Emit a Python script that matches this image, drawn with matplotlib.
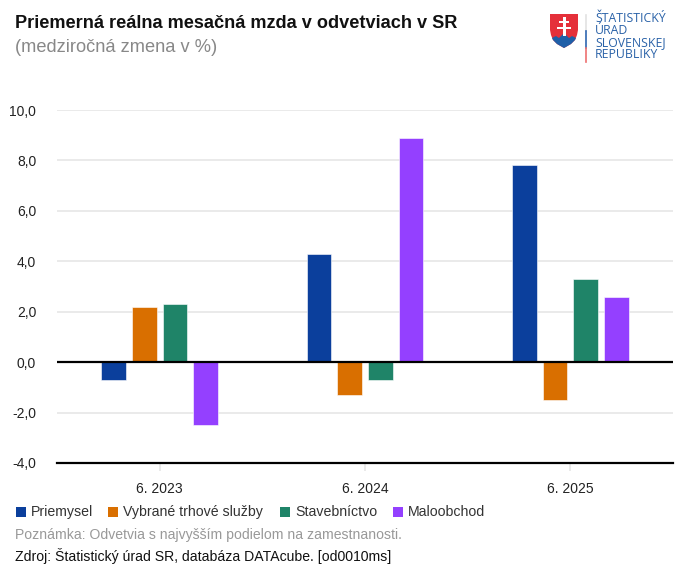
import matplotlib
matplotlib.use("Agg")
import matplotlib.pyplot as plt
from matplotlib.patches import Polygon, Rectangle
import numpy as np

plt.rcParams['font.family'] = ['Liberation Sans', 'DejaVu Sans']

W, H = 686, 573

categories = ["6. 2023", "6. 2024", "6. 2025"]
priemysel = [-0.7, 4.3, 7.8]
sluzby = [2.2, -1.3, -1.5]
stavebnictvo = [2.3, -0.7, 3.3]
maloobchod = [-2.5, 8.9, 2.6]
y_ticks = [-4, -2, 0, 2, 4, 6, 8, 10]

series_names = ["Priemysel", "Vybrané trhové služby", "Stavebníctvo", "Maloobchod"]
series_values = [priemysel, sluzby, stavebnictvo, maloobchod]
colors = ["#0b3f9c", "#d96f00", "#1f8468", "#9440ff"]

fig = plt.figure(figsize=(W / 100, H / 100), dpi=100, facecolor="white")

# pixel positions of the plot area
left, right, top, bottom = 57, 673, 110, 463
ax = fig.add_axes([left / W, 1 - bottom / H, (right - left) / W, (bottom - top) / H])

x = np.arange(len(categories))
pitch = 0.149
for i, (vals, c) in enumerate(zip(series_values, colors)):
    ax.bar(x + (i - 1.5) * pitch, vals, width=0.12, color=c, edgecolor="white", linewidth=0.4, zorder=3)

ax.set_xlim(-0.5, 2.5)
ax.set_ylim(-4, 10)
ax.set_yticks(y_ticks)
ax.set_yticklabels([f"{v:.1f}".replace(".", ",") for v in y_ticks], fontsize=10, color="#222222")
ax.set_xticks(x)
ax.set_xticklabels(categories, fontsize=10, color="#222222")
ax.tick_params(axis="y", length=0, pad=15)
ax.tick_params(axis="x", length=6, width=1.2, color="#e6e6e6", pad=8)
ax.grid(axis="y", color="#e6e6e6", linewidth=1.2, zorder=0)
for s in ["top", "right", "left"]:
    ax.spines[s].set_visible(False)
ax.spines["bottom"].set_color("black")
ax.spines["bottom"].set_linewidth(1.6)
ax.spines["bottom"].set_zorder(4)
ax.axhline(0, color="black", linewidth=1.6, zorder=4)

# overlay in pixel coordinates for texts, legend and logo
ov = fig.add_axes([0, 0, 1, 1], facecolor="none")
ov.set_xlim(0, W)
ov.set_ylim(H, 0)
ov.axis("off")

ov.text(15, 23, "Priemerná reálna mesačná mzda v odvetviach v SR", fontsize=13.1,
        fontweight="bold", color="#111111", va="center")
ov.text(15, 47, "(medziročná zmena v %)", fontsize=13.15, color="#888888", va="center")

legend_x = [16, 108, 280, 393]
for lx, name, c in zip(legend_x, series_names, colors):
    ov.add_patch(Rectangle((lx, 507), 10, 10, color=c, lw=0))
    ov.text(lx + 15, 512, name, fontsize=10.2, color="#333333", va="center")

ov.text(15, 535, "Poznámka: Odvetvia s najvyšším podielom na zamestnanosti.", fontsize=10.12,
        color="#999999", va="center")
ov.text(15, 556, "Zdroj: Štatistický úrad SR, databáza DATAcube. [od0010ms]", fontsize=10.1,
        color="#111111", va="center")

# logo: shield
shield = [(550, 14), (578, 14), (578, 30), (577, 35), (575, 40), (571, 44), (564, 48),
          (557, 44), (553, 40), (551, 35), (550, 30)]
ov.add_patch(Polygon(shield, closed=True, color="#e5303a", lw=0))
ov.add_patch(Polygon([(552, 38), (556, 36), (559, 38), (564, 33), (569, 38), (572, 36), (576, 38),
                      (575, 40), (571, 44), (564, 48), (557, 44), (553, 40)],
                     closed=True, color="#1f5fa8", lw=0))
ov.add_patch(Rectangle((562.5, 17), 3, 19, color="white", lw=0))
ov.add_patch(Rectangle((559, 20.5), 10, 2.5, color="white", lw=0))
ov.add_patch(Rectangle((557, 26.5), 14, 2.5, color="white", lw=0))
# logo: divider
ov.plot([586, 586], [15, 31], color="#e2e2e2", lw=1.2)
ov.plot([586, 586], [31, 48], color="#2f66b0", lw=1.2)
ov.plot([586, 586], [48, 62], color="#ee6f6f", lw=1.2)
for ty, line in zip([19, 31, 43, 55], ["ŠTATISTICKÝ", "ÚRAD", "SLOVENSKEJ", "REPUBLIKY"]):
    ov.text(595, ty, line, fontsize=8.85, color="#2a62a8", va="center", family=["Open Sans", "DejaVu Sans"])

fig.savefig("out.png", dpi=100)
